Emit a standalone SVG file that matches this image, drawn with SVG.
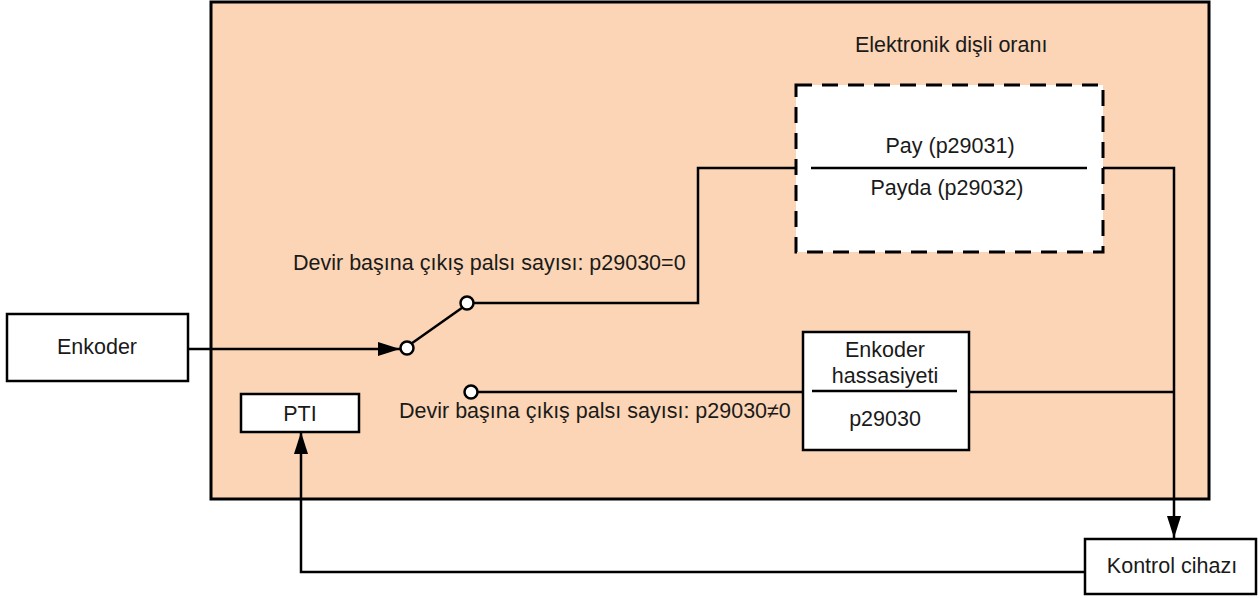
<svg xmlns="http://www.w3.org/2000/svg" width="1259" height="598" viewBox="0 0 1259 598">
  <style>
    .box { fill: #ffffff; stroke: #000000; stroke-width: 2.5; }
    .wire { fill: none; stroke: #000000; stroke-width: 2.5; }
    .contact { fill: #ffffff; stroke: #000000; stroke-width: 2.5; }
    text { font-family: "Liberation Sans", Arial, sans-serif; font-size: 21.5px; fill: #1a1a1a; }
    .mid { text-anchor: middle; }
  </style>
  <defs>
    <marker id="arrow" viewBox="0 0 22 14" refX="22" refY="7" markerWidth="22" markerHeight="14" markerUnits="userSpaceOnUse" orient="auto">
      <path d="M0,0 L22,7 L0,14 Z" fill="#000000"/>
    </marker>
  </defs>

  <!-- drive housing -->
  <g id="drive">
    <rect x="211" y="2" width="998" height="497" fill="#FBD5B5" stroke="#000000" stroke-width="3"/>
    <text x="855" y="52">Elektronik dişli oranı</text>
  </g>

  <!-- connectors -->
  <g id="connectors">
    <line class="wire" x1="188" y1="349" x2="400" y2="349" marker-end="url(#arrow)"/>
    <line class="wire" x1="411.5" y1="343.5" x2="462.5" y2="307.5"/>
    <polyline class="wire" points="473.5,303 698,303 698,168 796,168"/>
    <polyline class="wire" points="1103,168 1174,168 1174,538" marker-end="url(#arrow)"/>
    <line class="wire" x1="477.5" y1="392" x2="803" y2="392"/>
    <line class="wire" x1="969" y1="392" x2="1174" y2="392"/>
    <polyline class="wire" points="1085,572 301,572 301,432" marker-end="url(#arrow)"/>
  </g>

  <!-- switch contacts -->
  <g id="switch">
    <circle class="contact" cx="407" cy="348" r="6.5"/>
    <circle class="contact" cx="467" cy="303" r="6.5"/>
    <circle class="contact" cx="471" cy="392" r="6.5"/>
    <text x="293" y="270">Devir başına çıkış palsı sayısı: p29030=0</text>
    <text x="399" y="418">Devir başına çıkış palsı sayısı: p29030≠0</text>
  </g>

  <g id="encoder">
    <rect class="box" x="7" y="314" width="181" height="67"/>
    <text class="mid" x="97" y="354">Enkoder</text>
  </g>

  <g id="pti">
    <rect class="box" x="241" y="394" width="118" height="38"/>
    <text class="mid" x="300" y="421">PTI</text>
  </g>

  <g id="gear-ratio">
    <rect x="796" y="85" width="307" height="167" fill="#ffffff" stroke="#000000" stroke-width="3" stroke-dasharray="16 10"/>
    <line x1="811" y1="168" x2="1087" y2="168" stroke="#000000" stroke-width="2.5"/>
    <text class="mid" x="950" y="153">Pay (p29031)</text>
    <text class="mid" x="947" y="195">Payda (p29032)</text>
  </g>

  <g id="encoder-resolution">
    <rect class="box" x="803" y="332" width="166" height="118"/>
    <line x1="812" y1="391" x2="957" y2="391" stroke="#000000" stroke-width="2.5"/>
    <text class="mid" x="885" y="357">Enkoder</text>
    <text class="mid" x="885" y="383">hassasiyeti</text>
    <text class="mid" x="885" y="426">p29030</text>
  </g>

  <g id="controller">
    <rect class="box" x="1085" y="539" width="171" height="55"/>
    <text class="mid" x="1172" y="573">Kontrol cihazı</text>
  </g>
</svg>
